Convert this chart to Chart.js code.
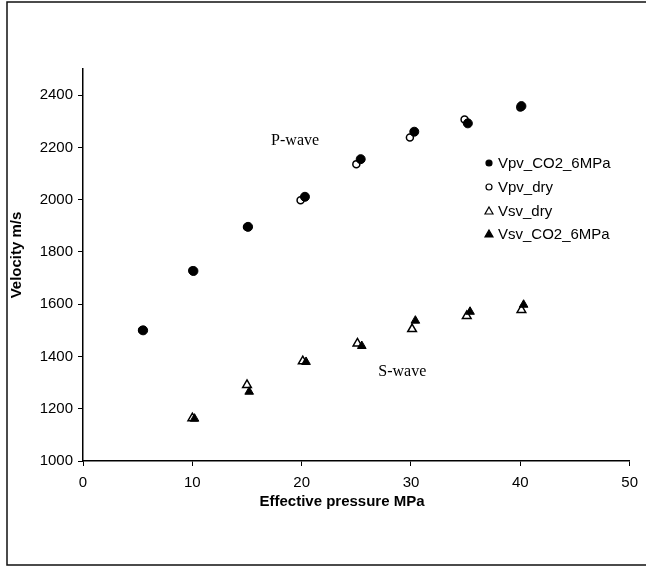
<!DOCTYPE html>
<html>
<head>
<meta charset="utf-8">
<title>Velocity vs effective pressure</title>
<script src="https://cdn.jsdelivr.net/npm/chart.js@4.4.0/dist/chart.umd.min.js"></script>
<style>
  html, body { margin: 0; padding: 0; background: #fff; }
  canvas { display: block; }
</style>
</head>
<body>
<canvas id="velocityChart" width="646" height="566"></canvas>
<script>
// values
const seriesNames = ["Vpv_CO2_6MPa", "Vpv_dry", "Vsv_dry", "Vsv_CO2_6MPa"];

const vpvCo2Pressure = [5.5, 10.1, 15.1, 20.3, 25.4, 30.3, 35.2, 40.1];
const vpvCo2Velocity = [1500, 1727, 1896, 2011, 2155, 2260, 2292, 2358];

const vpvDryPressure = [5.4, 10, 15, 19.9, 25, 29.9, 34.9, 40];
const vpvDryVelocity = [1500, 1729, 1895, 1998, 2136, 2238, 2307, 2353];

const vsvDryPressure = [10, 15, 20.1, 25.1, 30.1, 35.1, 40.1];
const vsvDryVelocity = [1164, 1291, 1382, 1450, 1505, 1555, 1578];

const vsvCo2Pressure = [10.2, 15.2, 20.4, 25.5, 30.4, 35.4, 40.3];
const vsvCo2Velocity = [1162, 1265, 1379, 1440, 1537, 1571, 1598];

const xTicks = [0, 10, 20, 30, 40, 50];
const yTicks = [1000, 1200, 1400, 1600, 1800, 2000, 2200, 2400];

const waveNames = ["P-wave", "S-wave"];
const wavePressure = [19.4, 29.2];
const waveVelocity = [2224, 1340];

const sansFont = "'Liberation Sans', Arial, sans-serif";
const serifFont = "'Liberation Serif', 'Times New Roman', serif";

function toPoints(xs, ys) {
    return xs.map((x, i) => ({ x: x, y: ys[i] }));
}

// marker look per series, used by the datasets and by the legend
const markers = [
    { style: "circle", radius: 4.5, fill: "#000", stroke: "#000", width: 1 },
    { style: "circle", radius: 3.5, fill: "#fff", stroke: "#000", width: 1.5 },
    { style: "triangle", radius: 5, fill: "#fff", stroke: "#000", width: 1.5 },
    { style: "triangle", radius: 5, fill: "#000", stroke: "#000", width: 1 }
];

const decorPlugin = {
    id: "decor",
    beforeDraw(chart) {
        const ctx = chart.ctx;
        ctx.save();
        ctx.fillStyle = "#fff";
        ctx.fillRect(0, 0, chart.width, chart.height);
        // outer frame (no right edge in the scan)
        ctx.strokeStyle = "#111";
        ctx.lineWidth = 1.5;
        ctx.beginPath();
        ctx.moveTo(chart.width, 2);
        ctx.lineTo(7, 2);
        ctx.lineTo(7, 565);
        ctx.lineTo(chart.width, 565);
        ctx.stroke();
        ctx.restore();
    },
    afterDraw(chart) {
        const ctx = chart.ctx;
        const xs = chart.scales.x;
        const ys = chart.scales.y;
        ctx.save();
        ctx.fillStyle = "#000";

        // axis titles
        ctx.font = "bold 15px " + sansFont;
        ctx.textAlign = "center";
        ctx.textBaseline = "middle";
        ctx.fillText("Effective pressure MPa", 342, 502);
        ctx.save();
        ctx.translate(17, 255);
        ctx.rotate(-Math.PI / 2);
        ctx.fillText("Velocity m/s", 0, 0);
        ctx.restore();

        // wave labels
        ctx.font = "16px " + serifFont;
        waveNames.forEach((name, i) => {
            ctx.fillText(name, xs.getPixelForValue(wavePressure[i]), ys.getPixelForValue(waveVelocity[i]));
        });

        // legend
        ctx.font = "15px " + sansFont;
        ctx.textAlign = "left";
        const rowY = [163, 187, 211, 234];
        seriesNames.forEach((name, i) => {
            const m = markers[i];
            const r = m.style === "circle" ? 3 : 4;
            const cx = 489;
            const cy = rowY[i];
            ctx.beginPath();
            if (m.style === "circle") {
                ctx.arc(cx, cy, r, 0, Math.PI * 2);
            } else {
                ctx.moveTo(cx, cy - r);
                ctx.lineTo(cx + r, cy + r * 0.75);
                ctx.lineTo(cx - r, cy + r * 0.75);
                ctx.closePath();
            }
            ctx.fillStyle = m.fill;
            ctx.fill();
            ctx.lineWidth = 1.2;
            ctx.strokeStyle = m.stroke;
            ctx.stroke();
            ctx.fillStyle = "#000";
            ctx.fillText(name, 498, cy + 1);
        });
        ctx.restore();
    }
};

function makeDataset(i, xs, ys, order) {
    const m = markers[i];
    return {
        label: seriesNames[i],
        data: toPoints(xs, ys),
        pointStyle: m.style,
        pointRadius: m.radius,
        pointHoverRadius: m.radius,
        pointBackgroundColor: m.fill,
        pointBorderColor: m.stroke,
        pointBorderWidth: m.width,
        showLine: false,
        order: order
    };
}

new Chart(document.getElementById("velocityChart").getContext("2d"), {
    type: "scatter",
    data: {
        datasets: [
            makeDataset(0, vpvCo2Pressure, vpvCo2Velocity, 0),
            makeDataset(1, vpvDryPressure, vpvDryVelocity, 1),
            makeDataset(2, vsvDryPressure, vsvDryVelocity, 1),
            makeDataset(3, vsvCo2Pressure, vsvCo2Velocity, 0)
        ]
    },
    options: {
        responsive: false,
        animation: false,
        layout: { padding: { top: 69, right: 13, left: 0, bottom: 0 } },
        plugins: {
            legend: { display: false },
            tooltip: { enabled: false }
        },
        scales: {
            x: {
                type: "linear",
                min: 0,
                max: 50,
                afterFit: (scale) => { scale.height = 105; },
                afterBuildTicks: (scale) => { scale.ticks = xTicks.map((v) => ({ value: v })); },
                border: { display: true, color: "#000", width: 1.5 },
                grid: { drawOnChartArea: false, drawTicks: true, tickLength: 5, color: "#000" },
                ticks: {
                    color: "#000",
                    padding: 8,
                    maxRotation: 0,
                    callback: (v) => String(v),
                    font: { family: sansFont, size: 15 }
                }
            },
            y: {
                type: "linear",
                min: 1000,
                max: 2500,
                afterFit: (scale) => { scale.width = 83; },
                afterBuildTicks: (scale) => { scale.ticks = yTicks.map((v) => ({ value: v })); },
                border: { display: true, color: "#000", width: 1.5 },
                grid: { drawOnChartArea: false, drawTicks: true, tickLength: 5, color: "#000" },
                ticks: {
                    color: "#000",
                    padding: 5,
                    callback: (v) => String(v),
                    font: { family: sansFont, size: 15 }
                }
            }
        }
    },
    plugins: [decorPlugin]
});
</script>
</body>
</html>
